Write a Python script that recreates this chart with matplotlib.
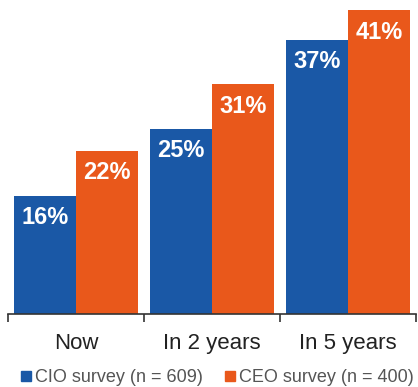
import matplotlib
matplotlib.use("Agg")
import matplotlib.pyplot as plt
from matplotlib.lines import Line2D
import numpy as np

categories = ["Now", "In 2 years", "In 5 years"]
cio_values = [16, 25, 37]
ceo_values = [22, 31, 41]
series_names = ["CIO survey (n = 609)", "CEO survey (n = 400)"]

blue = "#1A58A6"
orange = "#E9581B"

plt.rcParams['font.family'] = ['Liberation Sans', 'DejaVu Sans']

W, H = 418, 387
fig = plt.figure(figsize=(W / 100, H / 100), dpi=100)
ax = fig.add_axes([8 / W, 1 - 314 / H, 408 / W, 314 / H])

x = np.arange(len(categories))
bw = 0.456
b1 = ax.bar(x - bw / 2, cio_values, width=bw, color=blue)
b2 = ax.bar(x + bw / 2, ceo_values, width=bw, color=orange)

for bars, vals in ((b1, cio_values), (b2, ceo_values)):
    for rect, v in zip(bars, vals):
        ax.annotate(f"{v}%", (rect.get_x() + rect.get_width() / 2, v),
                    xytext=(0, -7.5), textcoords="offset points",
                    ha="center", va="top", color="white",
                    fontsize=17, fontweight="bold")

ax.set_xlim(-0.5, 2.5)
ax.set_ylim(0, 42.4)
for s in ("top", "right", "left"):
    ax.spines[s].set_visible(False)
ax.spines["bottom"].set_color("#333333")
ax.spines["bottom"].set_linewidth(1.2)
ax.set_yticks([])
ax.set_xticks([-0.5, 0.5, 1.5, 2.5])
ax.set_xticklabels([])
ax.tick_params(axis="x", length=6, width=1.2, color="#333333", direction="out")
ax.set_xticks(x, minor=True)
ax.set_xticklabels(categories, minor=True, fontsize=16, color="#222222")
ax.tick_params(axis="x", which="minor", length=0, pad=14)

handles = [Line2D([], [], marker="s", linestyle="none", markersize=7, color=blue),
           Line2D([], [], marker="s", linestyle="none", markersize=7, color=orange)]
fig.legend(handles, series_names, loc="center", bbox_to_anchor=(0.52, 1 - 378 / H),
           ncol=2, frameon=False, fontsize=13, handlelength=0.6, handletextpad=0.2,
           columnspacing=1.2, labelcolor="#555555", borderpad=0)

fig.savefig("out.png", dpi=100)
